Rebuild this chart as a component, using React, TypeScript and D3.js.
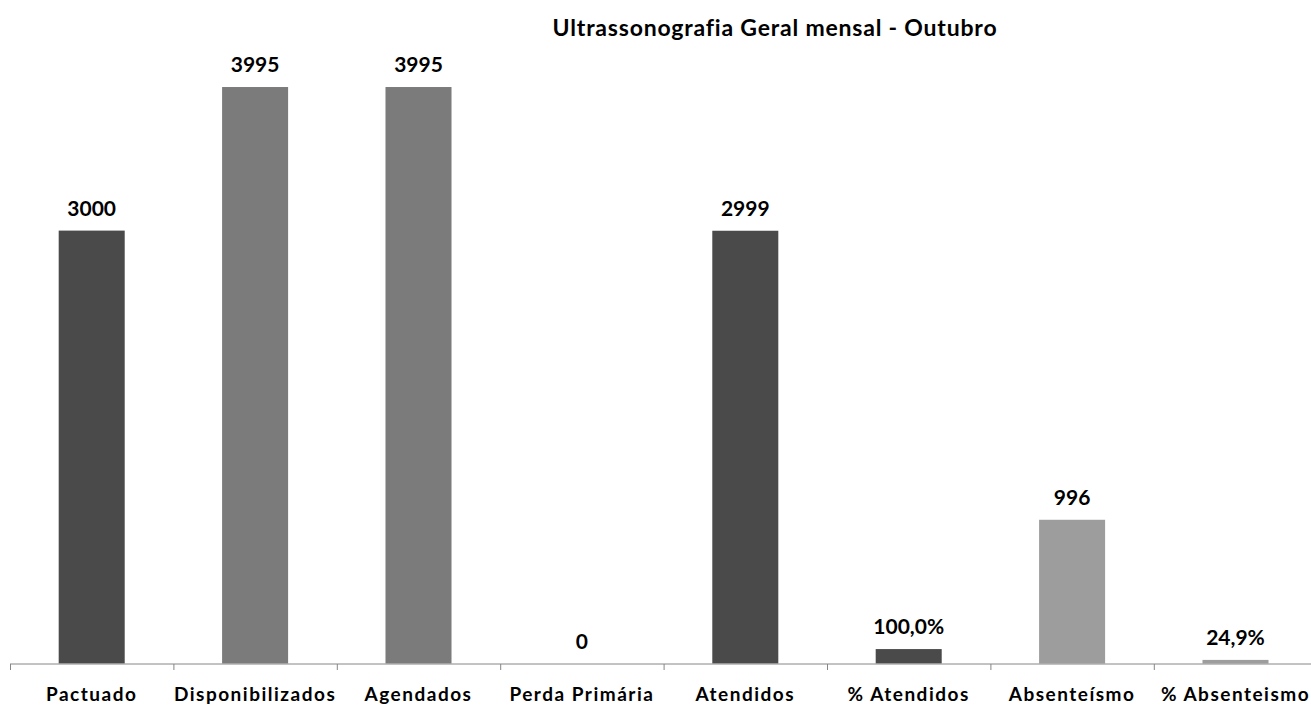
import React from "react";
import * as d3 from "d3";

const categories = ["Pactuado", "Disponibilizados", "Agendados", "Perda Primária", "Atendidos", "% Atendidos", "Absenteísmo", "% Absenteismo"];
const values = [3000, 3995, 3995, 0, 2999, 100, 996, 24.9];
const valueLabels = ["3000", "3995", "3995", "0", "2999", "100,0%", "996", "24,9%"];
const barColors = ["#4a4a4a", "#7b7b7b", "#7b7b7b", "#4a4a4a", "#4a4a4a", "#4a4a4a", "#9d9d9d", "#9d9d9d"];
const title = "Ultrassonografia Geral mensal - Outubro";

const W = 1311;
const H = 706;
const FONT = "Lato, 'Open Sans', sans-serif";

export default function App() {
  const x = d3.scaleBand<string>().domain(categories).range([10, 10 + 163.4 * 8]).padding(0);
  const y = d3.scaleLinear().domain([0, 4000]).range([663.5, 86.3]);
  const step = x.step();
  const bw = step * 0.404;
  const baseY = y(0);
  return (
    <svg width={W} height={H} style={{ position: "absolute", left: 0, top: 0, display: "block" }}>
      <rect x={0} y={0} width={W} height={H} fill="#fff" />
      <text x={775} y={36} textAnchor="middle" fontFamily={FONT} fontWeight="bold" fontSize={23} letterSpacing={0.8} fill="#000">{title}</text>
      {categories.map((c, i) => {
        const cx = (x(c) as number) + step / 2;
        const top = y(values[i]);
        return (
          <g key={c}>
            <rect x={cx - bw / 2} y={top} width={bw} height={baseY - top} fill={barColors[i]} />
            <text x={cx} y={top - 15} textAnchor="middle" fontFamily={FONT} fontWeight="bold" fontSize={21} fill="#000">{valueLabels[i]}</text>
            <text x={cx} y={701} textAnchor="middle" fontFamily={FONT} fontWeight="bold" fontSize={19} letterSpacing={1.5} fill="#000">{c}</text>
          </g>
        );
      })}
      <line x1={10} x2={W} y1={664} y2={664} stroke="#868686" strokeWidth={1} />
      {categories.map((c) => (
        <line key={"t" + c} x1={(x(c) as number) + 0.5} x2={(x(c) as number) + 0.5} y1={664} y2={670} stroke="#868686" strokeWidth={1} />
      ))}
    </svg>
  );
}
